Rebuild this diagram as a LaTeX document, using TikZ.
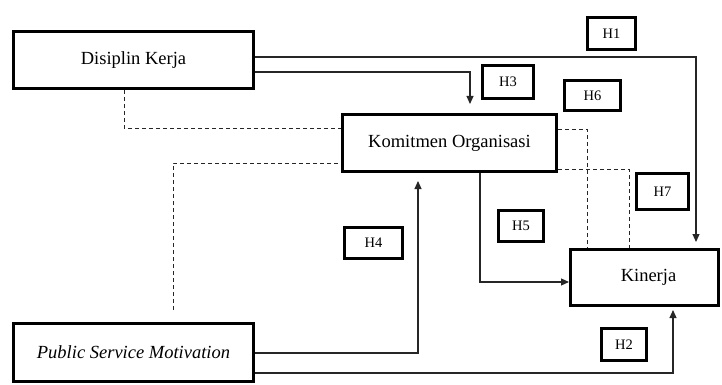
\documentclass[tikz,border=0pt]{standalone}
\usepackage{fontspec}
\setmainfont{Liberation Serif}
\usetikzlibrary{arrows.meta}
\begin{document}
\begin{tikzpicture}[x=1pt,y=-1pt,
  mainbox/.style={draw=black,line width=3pt,fill=white,inner sep=0pt,font=\fontsize{18.5}{22}\selectfont},
  hbox/.style={draw=black,line width=2.7pt,fill=white,inner sep=0pt,font=\fontsize{14.5}{17}\selectfont},
  conn/.style={draw=black!85,line width=1.1pt},
  arr/.style={conn,-{Triangle[length=8pt,width=7pt]}},
  dsh/.style={draw=black!85,line width=1pt,dash pattern=on 4pt off 3pt}]
\useasboundingbox (0,0) rectangle (722,385);
% main boxes
\node[mainbox,minimum width=240pt,minimum height=57pt] (dk) at (133.5,60) {Disiplin Kerja};
\node[mainbox,minimum width=214pt,minimum height=57pt] (ko) at (449.5,143) {Komitmen Organisasi};
\node[mainbox,minimum width=240pt,minimum height=58pt] (psm) at (133.5,352.5) {\itshape Public Service Motivation};
\node[mainbox,minimum width=148pt,minimum height=56pt] (kin) at (644.5,277.5) {\hspace*{8pt}Kinerja};
% hypothesis labels
\node[hbox,minimum width=48pt,minimum height=32pt] (h1) at (611.5,33.5) {H1};
\node[hbox,minimum width=51pt,minimum height=33pt] (h3) at (508,82) {H3};
\node[hbox,minimum width=56pt,minimum height=30pt] (h6) at (592.5,95.5) {H6};
\node[hbox,minimum width=52pt,minimum height=36pt] (h7) at (662.5,191.5) {H7};
\node[hbox,minimum width=45pt,minimum height=31pt] (h5) at (521,226) {H5};
\node[hbox,minimum width=58pt,minimum height=31pt] (h4) at (373.5,243) {H4};
\node[hbox,minimum width=45pt,minimum height=32pt] (h2) at (624,344.5) {H2};
% solid connectors
\draw[arr,shorten >=6pt] ([yshift=3pt]dk.east) -| ([xshift=51.5pt]kin.north);
\draw[arr,shorten >=9pt] ([yshift=-12pt]dk.east) -| ([xshift=20.5pt]ko.north);
\draw[arr,shorten >=8pt] ([yshift=-0.5pt]psm.east) -| ([xshift=-31.5pt]ko.south);
\draw[arr,shorten >=3pt] ([yshift=-20.5pt]psm.east) -| ([xshift=28.5pt]kin.south);
\draw[arr] ([xshift=30.5pt]ko.south) |- ([yshift=-4.5pt]kin.west);
% dashed connectors
\draw[dsh] ([xshift=-9.5pt]dk.south) |- ([yshift=15pt]ko.west);
\draw[dsh,shorten <=12pt] ([xshift=39.5pt]psm.north) |- ([yshift=-20pt]ko.west);
\draw[dsh] ([yshift=14pt]ko.east) -| ([xshift=-57.5pt]kin.north);
\draw[dsh] ([yshift=-26pt]ko.east) -| ([xshift=-15.5pt]kin.north);
\end{tikzpicture}
\end{document}
